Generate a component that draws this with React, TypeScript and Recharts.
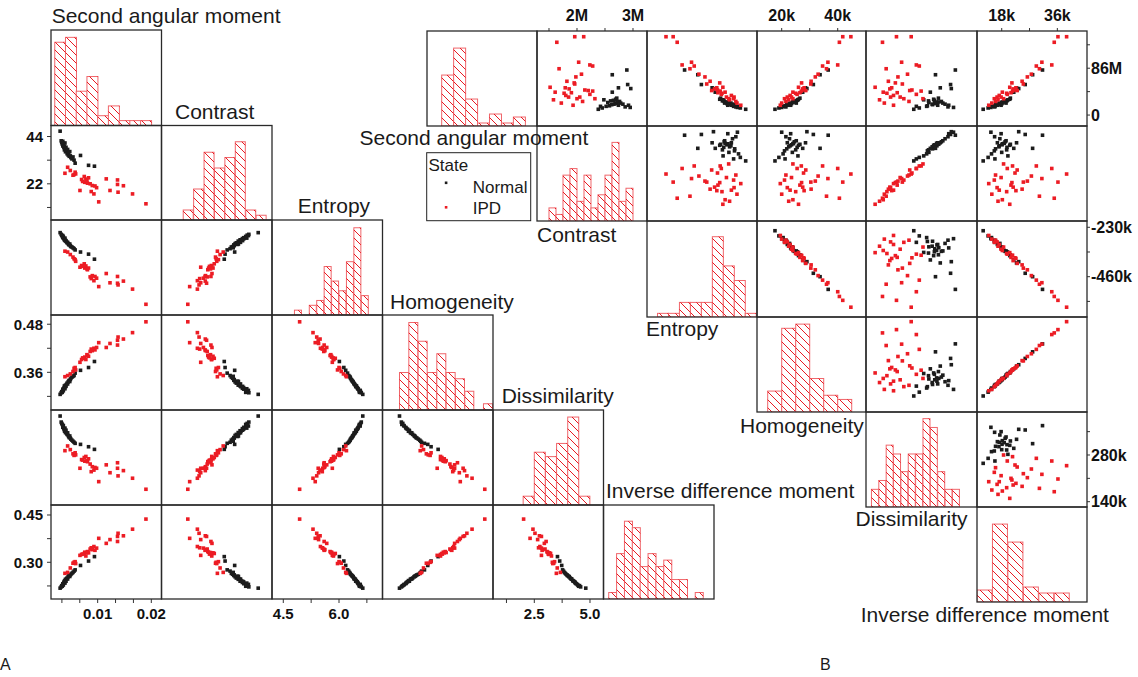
import React from 'react';
import { ScatterChart, Scatter, XAxis, YAxis, BarChart, Bar } from 'recharts';

const featureNames = ['Second angular moment', 'Contrast', 'Entropy', 'Homogeneity', 'Dissimilarity', 'Inverse difference moment'];

// ---------- panel A : normalised texture features ----------
const aNormalAsm = [0.0030, 0.0032, 0.0033, 0.0034, 0.0035, 0.0035, 0.0036, 0.0037, 0.0038, 0.0038, 0.0039, 0.0039, 0.0040, 0.0041, 0.0042, 0.0043, 0.0044, 0.0045, 0.0046, 0.0047, 0.0048, 0.0049, 0.0050, 0.0052, 0.0054, 0.0056, 0.0058, 0.0068, 0.0083, 0.0094];
const aNormalCon = [46.5, 42.0, 41.2, 40.5, 41.8, 39.6, 40.8, 38.9, 39.5, 37.8, 41.0, 38.2, 36.9, 39.0, 37.2, 36.0, 38.0, 35.4, 36.6, 34.8, 37.0, 35.0, 34.2, 33.6, 34.5, 33.0, 31.6, 35.2, 30.6, 30.2];
const aNormalEnt = [6.64, 6.60, 6.58, 6.55, 6.57, 6.52, 6.54, 6.50, 6.49, 6.47, 6.51, 6.46, 6.44, 6.45, 6.42, 6.40, 6.41, 6.38, 6.36, 6.35, 6.37, 6.33, 6.31, 6.30, 6.28, 6.26, 6.23, 6.18, 6.13, 6.01];
const aNormalHom = [0.305, 0.309, 0.312, 0.310, 0.315, 0.318, 0.314, 0.320, 0.322, 0.326, 0.319, 0.324, 0.328, 0.325, 0.330, 0.333, 0.331, 0.336, 0.338, 0.340, 0.337, 0.342, 0.345, 0.348, 0.350, 0.352, 0.358, 0.365, 0.372, 0.387];
const aNormalDis = [4.81, 4.58, 4.53, 4.49, 4.43, 4.38, 4.45, 4.33, 4.31, 4.25, 4.35, 4.23, 4.18, 4.27, 4.15, 4.11, 4.17, 4.07, 4.03, 3.99, 4.05, 3.97, 3.93, 3.89, 3.85, 3.81, 3.77, 3.73, 3.64, 3.54];
const aNormalIdm = [0.218, 0.222, 0.226, 0.224, 0.230, 0.232, 0.228, 0.236, 0.238, 0.240, 0.234, 0.242, 0.246, 0.240, 0.248, 0.250, 0.247, 0.254, 0.256, 0.258, 0.255, 0.260, 0.262, 0.265, 0.268, 0.272, 0.276, 0.290, 0.304, 0.318];

const aIpdAsm = [0.0039, 0.0044, 0.0049, 0.0054, 0.0056, 0.0059, 0.0067, 0.0070, 0.0075, 0.0076, 0.0078, 0.0081, 0.0083, 0.0086, 0.0088, 0.0090, 0.0093, 0.0095, 0.0098, 0.0102, 0.0116, 0.0123, 0.0137, 0.0137, 0.0138, 0.0148, 0.0165, 0.0190, 0.0072, 0.0080, 0.0058];
const aIpdCon = [26.9, 29.7, 28.2, 26.0, 26.3, 26.6, 18.9, 24.0, 25.4, 22.7, 24.2, 22.3, 24.8, 22.0, 18.4, 21.2, 17.3, 21.0, 20.2, 13.6, 24.3, 18.9, 23.8, 21.7, 18.1, 21.1, 17.3, 12.7, 23.1, 23.6, 27.4];
const aIpdEnt = [6.20, 6.18, 6.12, 6.06, 6.02, 5.96, 5.82, 5.86, 5.90, 5.80, 5.85, 5.76, 5.80, 5.59, 5.55, 5.62, 5.50, 5.60, 5.56, 5.36, 5.67, 5.45, 5.60, 5.44, 5.40, 5.49, 5.30, 4.94, 5.84, 5.78, 6.00];
const aIpdHom = [0.349, 0.352, 0.356, 0.362, 0.370, 0.366, 0.385, 0.392, 0.395, 0.398, 0.392, 0.402, 0.400, 0.412, 0.418, 0.414, 0.420, 0.416, 0.422, 0.434, 0.422, 0.432, 0.428, 0.440, 0.448, 0.443, 0.459, 0.486, 0.396, 0.404, 0.372];
const aIpdDis = [3.49, 3.67, 3.53, 3.37, 3.31, 3.33, 2.82, 3.15, 3.23, 3.09, 3.27, 3.07, 3.18, 2.98, 2.69, 2.88, 2.75, 2.85, 2.82, 2.31, 2.95, 2.65, 3.03, 2.82, 2.53, 2.73, 2.44, 2.02, 3.13, 3.11, 3.41];
const aIpdIdm = [0.265, 0.268, 0.282, 0.297, 0.300, 0.296, 0.322, 0.325, 0.328, 0.332, 0.320, 0.334, 0.330, 0.342, 0.346, 0.340, 0.350, 0.338, 0.345, 0.376, 0.360, 0.372, 0.366, 0.382, 0.392, 0.384, 0.405, 0.437, 0.326, 0.331, 0.302];

// histogram counts on the diagonal (bin start, bin width, counts)
const aHistCounts = [
  [17, 18, 7, 10, 2, 4, 1, 1, 1],
  [2, 6, 13, 10, 12, 15, 2, 1],
  [1, 0, 2, 3, 10, 7, 5, 11, 18, 4],
  [6, 14, 11, 6, 9, 6, 5, 3, 0, 1],
  [2, 12, 11, 14, 20, 2],
  [1, 7, 12, 11, 5, 7, 5, 6, 3, 3, 0, 1],
];
const aHistStart = [0.002, 10.5, 4.8, 0.305, 2.0, 0.21];
const aHistWidth = [0.002, 5, 0.2, 0.0198, 0.5, 0.02];

// ---------- panel B : raw texture features ----------
const bNormalAsm = [10.6, 13, 16, 17, 19, 20, 22, 21, 24, 18, 25, 23, 26, 27, 29, 31, 24, 22, 20, 15, 18, 14, 28, 16, 42, 50, 48.6, 56, 74, 82.7];
const bNormalCon = [2.38, 2.45, 2.52, 2.58, 2.62, 2.66, 2.68, 2.70, 2.72, 2.74, 2.76, 2.55, 2.60, 2.65, 2.69, 2.71, 2.73, 2.78, 2.82, 2.86, 2.92, 2.95, 2.48, 2.42, 2.63, 2.74, 2.96, 2.905, 2.63, 2.89];
const bNormalEnt = [-246, -270, -278, -296, -295, -318, -312, -330, -325, -310, -342, -321, -350, -344, -362, -358, -338, -340, -305, -290, -326, -283, -347, -300, -382, -396, -390, -444, -460, -519];
const bNormalHom = [17.6, 19.0, 20.5, 21.0, 21.8, 22.5, 23.0, 23.5, 24.0, 22.0, 24.5, 23.8, 25.0, 25.5, 26.0, 26.5, 24.2, 25.2, 22.8, 21.5, 23.2, 20.0, 25.8, 21.2, 27.5, 28.5, 29.0, 31.3, 33.7, 36.6];
const bNormalDis = [255, 270, 290, 292, 306, 305, 318, 312, 323, 320, 330, 296, 295, 311, 309, 322, 317, 334, 340, 348, 350, 363, 282, 262, 300, 327, 357, 355, 314, 368];
const bNormalIdm = [12.0, 13.6, 14.7, 15.6, 16.0, 17.1, 17.2, 18.1, 18.2, 16.6, 19.1, 18.0, 19.6, 19.7, 20.6, 20.8, 18.8, 19.4, 17.4, 15.7, 17.8, 14.5, 20.0, 15.8, 21.9, 22.8, 23.5, 25.6, 28.0, 31.2];

const bIpdAsm = [133.6, 143.8, 143.8, 97, 92, 90, 62, 57, 59, 51, 42, 50, 48, 40, 36, 41, 33, 30, 33, 46, 45, 44, 38, 22, 18, 25, 28, 30, 70, 75, 85];
const bIpdCon = [1.64, 1.96, 2.12, 2.03, 2.23, 2.28, 1.82, 1.96, 1.95, 1.52, 1.61, 1.79, 1.86, 1.77, 1.80, 1.90, 1.85, 2.00, 2.05, 2.14, 2.20, 2.28, 2.23, 1.72, 1.93, 2.10, 1.58, 2.32, 1.98, 2.08, 1.68];
const bIpdEnt = [-552, -570, -602, -488, -530, -476, -405, -420, -362, -348, -338, -375, -385, -352, -310, -370, -298, -300, -332, -372, -398, -360, -355, -285, -268, -290, -318, -322, -428, -455, -495];
const bIpdHom = [40.6, 41.8, 44.7, 36.5, 40.0, 34.6, 30.5, 30.4, 27.1, 26.0, 24.0, 28.0, 27.5, 25.0, 23.0, 26.5, 22.0, 21.0, 23.5, 27.8, 28.6, 27.0, 25.5, 20.0, 19.5, 21.5, 22.5, 24.0, 32.0, 33.0, 36.0];
const bIpdDis = [170, 208, 248, 222, 262, 270, 186, 224, 205, 150, 172, 195, 190, 182, 200, 210, 192, 228, 218, 250, 244, 275, 262, 175, 200, 242, 162, 280, 212, 238, 180];
const bIpdIdm = [35.0, 36.2, 39.0, 31.0, 34.2, 29.2, 24.6, 25.0, 21.3, 20.6, 18.2, 22.6, 21.7, 19.6, 17.2, 21.0, 16.5, 15.6, 17.8, 22.3, 23.0, 21.5, 19.8, 14.8, 13.8, 16.0, 16.8, 18.6, 26.3, 27.6, 30.2];

const bHistCounts = [
  [17, 26, 9, 1, 4, 1, 3],
  [2, 1, 7, 8, 3, 7, 2, 4, 7, 12, 3, 5],
  [1, 1, 4, 4, 4, 22, 14, 10, 1],
  [5, 20, 21, 8, 4, 3],
  [2, 3, 7, 6, 4, 6, 6, 10, 9, 4, 2, 2],
  [4, 26, 20, 5, 3, 3],
];
const bHistStart = [0, 1.5, -640, 15, 140, 10];
const bHistWidth = [21, 0.125, 49, 5, 20, 5];

// ---------- axis ticks ----------
const aLeftTicks: any[] = [null, { ticks: [11, 22, 33, 44], labels: ['', '22', '', '44'] }, null,
  { ticks: [0.30, 0.36, 0.42, 0.48], labels: ['', '0.36', '', '0.48'] }, null,
  { ticks: [0.225, 0.30, 0.375, 0.45], labels: ['', '0.30', '', '0.45'] }];
const aBottomTicks: any[] = [
  { ticks: [0.003333, 0.006667, 0.01, 0.013333, 0.016667, 0.02], labels: ['', '', '0.01', '', '', '0.02'] }, null,
  { ticks: [4.5, 5.25, 6.0, 6.75], labels: ['4.5', '', '6.0', ''] }, null,
  { ticks: [1.25, 2.5, 3.75, 5.0], labels: ['', '2.5', '', '5.0'] }, null];
const bTopTicks: any[] = [null, { ticks: [1.5, 2, 2.5, 3], labels: ['', '2M', '', '3M'] }, null,
  { ticks: [20, 30, 40], labels: ['20k', '', '40k'] }, null,
  { ticks: [18, 27, 36], labels: ['18k', '', '36k'] }];
const bRightTicks: any[] = [{ ticks: [0, 43, 86, 129], labels: ['0', '', '86M', ''] }, null,
  { ticks: [-575, -460, -345, -230], labels: ['', '-460k', '', '-230k'] }, null,
  { ticks: [140, 210, 280, 350], labels: ['140k', '', '280k', ''] }, null];

// ---------- layout ----------
const aColX = [51, 161.5, 272, 382.5, 493, 603.5, 714];
const aRowY = [30, 125.5, 220, 315, 410, 505, 599];
const bColX = [427, 537, 647, 757, 866, 977, 1087];
const bRowY = [31, 126, 221, 317, 412, 507, 602];
const aXDomain = [[0.0013, 0.0219], [0.31, 53.36], [4.196, 7.171], [0.270, 0.5045], [0.646, 5.606], [0.198, 0.479]];
const aYDomain = [[0, 1], [4.93, 48.9], [4.686, 6.94], [0.266, 0.503], [1.42, 5.04], [0.1836, 0.4817]];
const bXDomain = [[-25.8, 167.5], [1.286, 3.25], [-686.9, -195.5], [11.18, 50.1], [125.2, 426.8], [10.0, 45.6]];
const bYDomain = [[-20.1, 154.3], [1.188, 3.073], [-647.6, -200.7], [11.76, 46.4], [124.1, 408.9], [0, 1]];
const aHistMax = [19.5, 18.0, 19.6, 15.2, 21.6, 14.5];
const bHistMax = [31.7, 14.5, 26.3, 22.7, 10.75, 31.7];
const aLabelPos = [[51.7, 22.5], [175, 118.5], [297.7, 213.3], [390, 308.5], [501.7, 403.3], [606, 498.3]];
const bLabelPos = [[359.5, 145], [537, 241.5], [646, 336], [740, 432.7], [855.5, 526], [860.7, 621.7]];

const FONT = '"Liberation Sans", Arial, Helvetica, sans-serif';
const BLACK = '#1c1c1c';
const RED = '#ec1c24';
const HATCH = '#e81a22';
const AXW = 50;
const AXH = 26;
const PAD = 14;

const aNormal = [aNormalAsm, aNormalCon, aNormalEnt, aNormalHom, aNormalDis, aNormalIdm];
const aIpd = [aIpdAsm, aIpdCon, aIpdEnt, aIpdHom, aIpdDis, aIpdIdm];
const bNormal = [bNormalAsm, bNormalCon, bNormalEnt, bNormalHom, bNormalDis, bNormalIdm];
const bIpd = [bIpdAsm, bIpdCon, bIpdEnt, bIpdHom, bIpdDis, bIpdIdm];

const pairs = (g: number[][], c: number, r: number) => g[c].map((v, i) => ({ x: v, y: g[r][i] }));
const fmtFrom = (spec: any) => (v: number) => {
  const i = spec.ticks.indexOf(v);
  return i >= 0 ? spec.labels[i] : '';
};

const square = (color: string) => (p: any) =>
  p.cx == null ? <g /> : <rect x={p.cx - 1.8} y={p.cy - 1.8} width={3.6} height={3.6} fill={color} />;

// hatched histogram bar: white box, light red outline, "\" diagonal lines
const hatchedBar = (p: any) => {
  const { x, y, width, height } = p;
  if (!height || height <= 0 || !width) return <g />;
  const s = 8;
  const x1 = x + width;
  const y1 = y + height;
  let d = '';
  for (let c = Math.ceil((y - x1) / s) * s; c <= y1 - x; c += s) {
    const xa = Math.max(x, y - c);
    const xb = Math.min(x1, y1 - c);
    if (xb > xa) d += `M${xa},${xa + c}L${xb},${xb + c}`;
  }
  return (
    <g>
      <rect x={x} y={y} width={width} height={height} fill="#fff" stroke="#f0666b" strokeWidth={1} />
      <path d={d} stroke={HATCH} strokeWidth={1} fill="none" />
    </g>
  );
};

function ScatterCell({ x, y, w, h, xDomain, yDomain, normal, ipd, left, bottom, top, right, fontSize }: any) {
  const padL = left ? AXW : 0;
  const padR = right ? AXW : 0;
  const padT = top ? AXH : 0;
  const padB = bottom ? AXH : 0;
  const W = w + padL + padR + 2 * PAD;
  const H = h + padT + padB + 2 * PAD;
  const xSpec = top || bottom;
  const ySpec = left || right;
  const tickStyle = { fontSize, fontWeight: 700, fill: '#111', fontFamily: FONT };
  return (
    <div style={{ position: 'absolute', left: x - padL - PAD, top: y - padT - PAD, width: W, height: H }}>
      <ScatterChart width={W} height={H} margin={{ top: PAD, right: PAD, bottom: PAD, left: PAD }}>
        <XAxis type="number" dataKey="x" domain={xDomain} hide={!xSpec} orientation={top ? 'top' : 'bottom'}
          height={AXH} ticks={xSpec ? xSpec.ticks : undefined} interval={0}
          tickFormatter={xSpec ? fmtFrom(xSpec) : undefined} axisLine={false}
          tickLine={{ stroke: '#333' }} tickSize={top ? 3 : 4} tickMargin={top ? 7 : 5} tick={tickStyle} />
        <YAxis type="number" dataKey="y" domain={yDomain} hide={!ySpec} orientation={right ? 'right' : 'left'}
          width={AXW} ticks={ySpec ? ySpec.ticks : undefined} interval={0}
          tickFormatter={ySpec ? fmtFrom(ySpec) : undefined} axisLine={false}
          tickLine={{ stroke: '#333' }} tickSize={right ? 3 : 4} tickMargin={right ? 1 : 4} tick={tickStyle} />
        <Scatter data={normal} fill={BLACK} shape={square(BLACK)} isAnimationActive={false} />
        <Scatter data={ipd} fill={RED} shape={square(RED)} isAnimationActive={false} />
      </ScatterChart>
    </div>
  );
}

function HistCell({ x, y, w, h, xDomain, start, width, counts, yMax }: any) {
  const k = w / (xDomain[1] - xDomain[0]);
  const x0 = Math.max(0, (start - xDomain[0]) * k);
  const x1 = Math.min(w, (start + width * counts.length - xDomain[0]) * k);
  const data = counts.map((c: number, i: number) => ({ bin: i, count: c }));
  return (
    <div style={{ position: 'absolute', left: x, top: y, width: w, height: h }}>
      <BarChart width={w} height={h} data={data} margin={{ top: 0, bottom: 0, left: x0, right: w - x1 }}
        barCategoryGap={0} barGap={0}>
        <XAxis dataKey="bin" hide />
        <YAxis hide domain={[0, yMax]} />
        <Bar dataKey="count" fill="#fff" shape={hatchedBar} isAnimationActive={false} />
      </BarChart>
    </div>
  );
}

export default function App() {
  const cells: any[] = [];
  const frames: any[] = [];
  for (let r = 0; r < 6; r++) {
    for (let c = 0; c <= r; c++) {
      const x = aColX[c], y = aRowY[r], w = aColX[c + 1] - x, h = aRowY[r + 1] - y;
      frames.push(<rect key={`fa${r}${c}`} x={x} y={y} width={w} height={h} fill="none" stroke="#2a2a2a" strokeWidth={1.3} />);
      if (r === c) {
        cells.push(<HistCell key={`a${r}${c}`} x={x} y={y} w={w} h={h} xDomain={aXDomain[c]}
          start={aHistStart[c]} width={aHistWidth[c]} counts={aHistCounts[c]} yMax={aHistMax[c]} />);
      } else {
        cells.push(<ScatterCell key={`a${r}${c}`} x={x} y={y} w={w} h={h} xDomain={aXDomain[c]} yDomain={aYDomain[r]}
          normal={pairs(aNormal, c, r)} ipd={pairs(aIpd, c, r)} fontSize={15}
          left={c === 0 ? aLeftTicks[r] : null} bottom={r === 5 ? aBottomTicks[c] : null} />);
      }
    }
  }
  for (let r = 0; r < 6; r++) {
    for (let c = r; c < 6; c++) {
      const x = bColX[c], y = bRowY[r], w = bColX[c + 1] - x, h = bRowY[r + 1] - y;
      frames.push(<rect key={`fb${r}${c}`} x={x} y={y} width={w} height={h} fill="none" stroke="#2a2a2a" strokeWidth={1.3} />);
      if (r === c) {
        cells.push(<HistCell key={`b${r}${c}`} x={x} y={y} w={w} h={h} xDomain={bXDomain[c]}
          start={bHistStart[c]} width={bHistWidth[c]} counts={bHistCounts[c]} yMax={bHistMax[c]} />);
      } else {
        cells.push(<ScatterCell key={`b${r}${c}`} x={x} y={y} w={w} h={h} xDomain={bXDomain[c]} yDomain={bYDomain[r]}
          normal={pairs(bNormal, c, r)} ipd={pairs(bIpd, c, r)} fontSize={16}
          top={r === 0 ? bTopTicks[c] : null} right={c === 5 ? bRightTicks[r] : null} />);
      }
    }
  }

  const titleStyle = { fontFamily: FONT, fontSize: 21, fill: '#1a1a1a' } as any;
  const legendStyle = { fontFamily: FONT, fontSize: 17, fill: '#1a1a1a' } as any;

  return (
    <div style={{ position: 'absolute', left: 0, top: 0, width: 1138, height: 677, background: '#fff', overflow: 'hidden' }}>
      {cells}
      <svg width={1138} height={677} style={{ position: 'absolute', left: 0, top: 0, pointerEvents: 'none' }}>
        {frames}
        {featureNames.map((n, i) => (
          <text key={`la${i}`} x={aLabelPos[i][0]} y={aLabelPos[i][1]} style={titleStyle}>{n}</text>
        ))}
        {featureNames.map((n, i) => (
          <text key={`lb${i}`} x={bLabelPos[i][0]} y={bLabelPos[i][1]} style={titleStyle}>{n}</text>
        ))}
        <rect x={426.7} y={152.7} width={104} height={68} fill="#fff" stroke="#222" strokeWidth={1} />
        <text x={428.5} y={170.7} style={legendStyle}>State</text>
        <rect x={444.8} y={181.5} width={2.6} height={2.6} fill={BLACK} />
        <text x={472.7} y={193.3} style={legendStyle}>Normal</text>
        <rect x={444.8} y={206} width={2.6} height={2.6} fill={RED} />
        <text x={472.7} y={214.3} style={legendStyle}>IPD</text>
        <text x={0} y={670} style={{ fontFamily: FONT, fontSize: 16, fill: '#1a1a1a' }}>A</text>
        <text x={820} y={670} style={{ fontFamily: FONT, fontSize: 16, fill: '#1a1a1a' }}>B</text>
      </svg>
    </div>
  );
}
